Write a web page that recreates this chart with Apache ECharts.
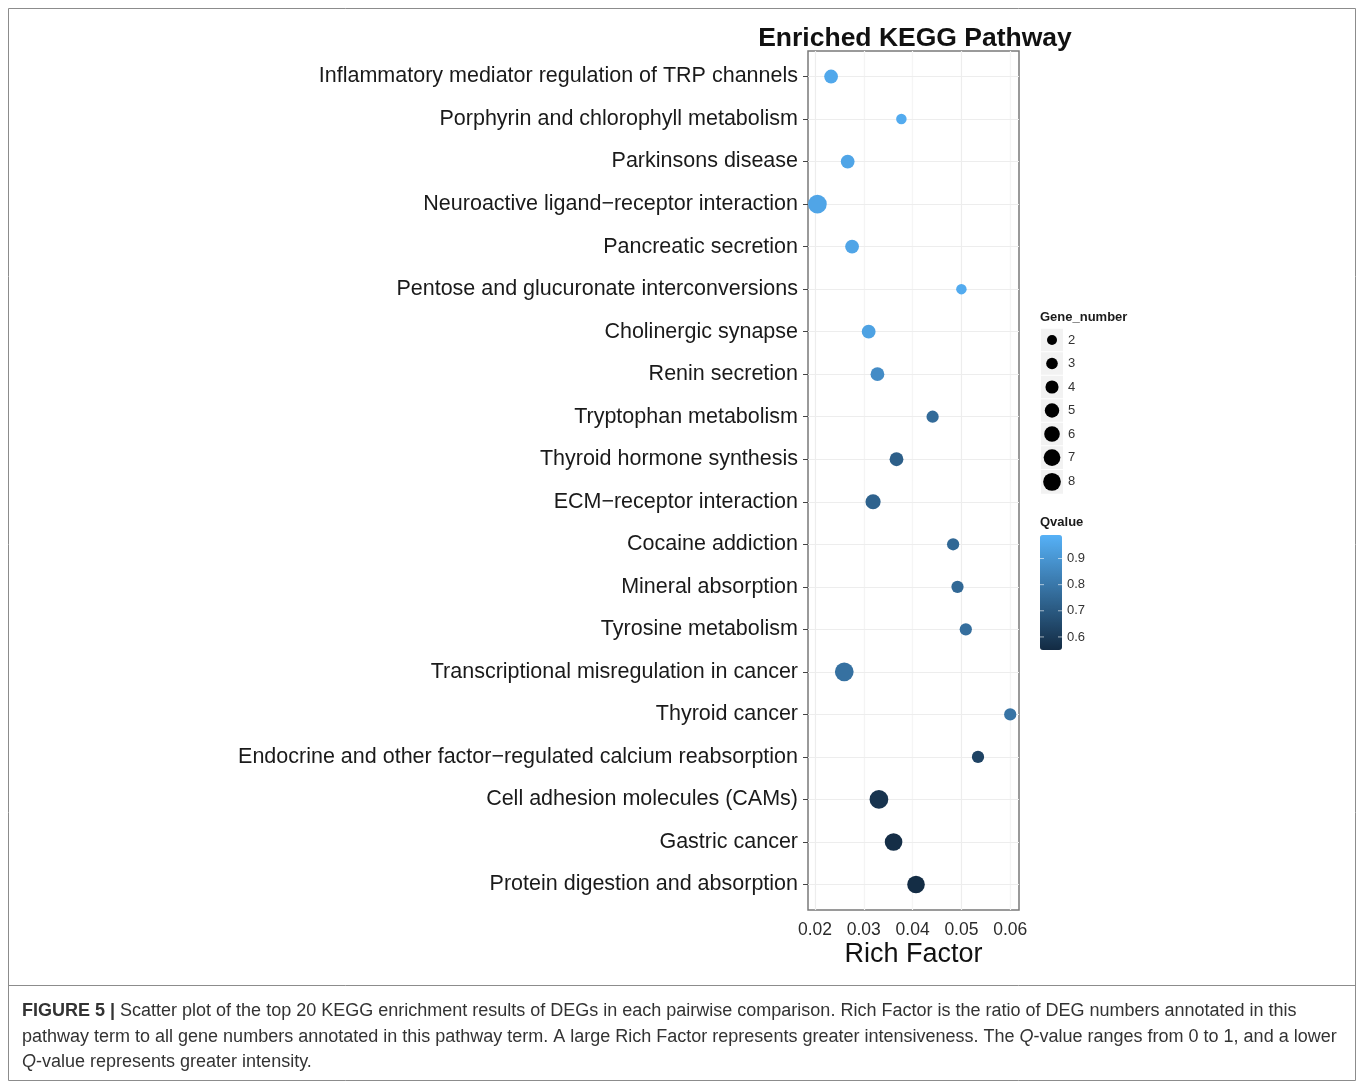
<!DOCTYPE html>
<html>
<head>
<meta charset="utf-8">
<title>Enriched KEGG Pathway</title>
<script src="https://cdn.jsdelivr.net/npm/echarts@6/dist/echarts.min.js"></script>
<style>
  html, body { margin: 0; padding: 0; background: #fff; }
  #main { width: 1360px; height: 1083px; }
</style>
</head>
<body>
<div id="main"></div>
<script>
// pathways, top to bottom
var categories = [
    'Inflammatory mediator regulation of TRP channels',
    'Porphyrin and chlorophyll metabolism',
    'Parkinsons disease',
    'Neuroactive ligand\u2212receptor interaction',
    'Pancreatic secretion',
    'Pentose and glucuronate interconversions',
    'Cholinergic synapse',
    'Renin secretion',
    'Tryptophan metabolism',
    'Thyroid hormone synthesis',
    'ECM\u2212receptor interaction',
    'Cocaine addiction',
    'Mineral absorption',
    'Tyrosine metabolism',
    'Transcriptional misregulation in cancer',
    'Thyroid cancer',
    'Endocrine and other factor\u2212regulated calcium reabsorption',
    'Cell adhesion molecules (CAMs)',
    'Gastric cancer',
    'Protein digestion and absorption'
];
var richFactor = [0.0233, 0.0377, 0.0267, 0.0205, 0.0276, 0.0500, 0.0310, 0.0328, 0.0441, 0.0367,
                  0.0319, 0.0483, 0.0492, 0.0509, 0.0260, 0.0600, 0.0534, 0.0331, 0.0361, 0.0407];
var geneNumber = [4, 2, 4, 8, 4, 2, 4, 4, 3, 4, 5, 3, 3, 3, 8, 3, 3, 8, 7, 7];
var qValue = [0.96, 0.97, 0.95, 0.95, 0.95, 0.97, 0.94, 0.87, 0.76, 0.72,
              0.73, 0.75, 0.75, 0.77, 0.78, 0.79, 0.63, 0.58, 0.56, 0.555];

var xTicks = [0.02, 0.03, 0.04, 0.05, 0.06];
var xMinor = [0.025, 0.035, 0.045, 0.055];
var sizeKeys = [2, 3, 4, 5, 6, 7, 8];
var qTicks = [0.6, 0.7, 0.8, 0.9];

var FONT = '"Liberation Sans", Arial, Helvetica, sans-serif';
var qMin = 0.55, qMax = 0.99;
var barLeft = 1040, barTop = 535, barW = 22, barH = 115;

// point diameter for a gene number (area grows linearly)
function geneSize(n) {
    return Math.sqrt(110 + 40 * (n - 2));
}

var points = [];
var rowIdx = [];
for (var i = 0; i < categories.length; i++) {
    points.push([richFactor[i], i, geneNumber[i], qValue[i]]);
    rowIdx.push(i);
}

var gridLines = [];
xTicks.forEach(function(v) {
    gridLines.push({ xAxis: v, lineStyle: { color: '#EDEDED', width: 1.2, type: 'solid' } });
});
xMinor.forEach(function(v) {
    gridLines.push({ xAxis: v, lineStyle: { color: '#F5F5F5', width: 0.8, type: 'solid' } });
});
rowIdx.forEach(function(v) {
    gridLines.push({ yAxis: v, lineStyle: { color: '#EDEDED', width: 1.2, type: 'solid' } });
});

// legend + caption + frame
var graphics = [];
graphics.push({
    type: 'rect', shape: { x: 8.5, y: 8.5, width: 1347, height: 1072 },
    style: { fill: 'none', stroke: '#8c8c8c', lineWidth: 1 }, silent: true
});
graphics.push({
    type: 'line', shape: { x1: 8.5, y1: 985.5, x2: 1355.5, y2: 985.5 },
    style: { stroke: '#8c8c8c', lineWidth: 1 }, silent: true
});

graphics.push({
    type: 'text', left: 1040, top: 311,
    style: { text: 'Gene_number', font: 'bold 13px ' + FONT, fill: '#1a1a1a' }
});
var keyY = 340;
sizeKeys.forEach(function(n, j) {
    var d = geneSize(n) * 0.95;
    var box = Math.max(23.5, d + 7);
    graphics.push({
        type: 'rect', shape: { x: 1041, y: keyY - box / 2 + 0.5, width: 22, height: box - 1 },
        style: { fill: '#F2F2F2' }, silent: true
    });
    graphics.push({
        type: 'circle', shape: { cx: 1052, cy: keyY, r: d / 2 },
        style: { fill: '#000' }, silent: true
    });
    graphics.push({
        type: 'text', x: 1068, y: keyY,
        style: { text: String(n), font: '13px ' + FONT, fill: '#333', textVerticalAlign: 'middle' }
    });
    if (j < sizeKeys.length - 1) {
        var nb = Math.max(23.5, geneSize(sizeKeys[j + 1]) * 0.95 + 7);
        keyY += box / 2 + nb / 2;
    }
});

graphics.push({
    type: 'text', left: 1040, top: 516,
    style: { text: 'Qvalue', font: 'bold 13px ' + FONT, fill: '#1a1a1a' }
});
qTicks.forEach(function(v) {
    var y = barTop + (qMax - v) / (qMax - qMin) * barH;
    graphics.push({
        type: 'line', shape: { x1: barLeft, y1: y, x2: barLeft + 4, y2: y },
        style: { stroke: 'rgba(255,255,255,0.6)', lineWidth: 1 }, silent: true, z: 100
    });
    graphics.push({
        type: 'line', shape: { x1: barLeft + barW - 4, y1: y, x2: barLeft + barW, y2: y },
        style: { stroke: 'rgba(255,255,255,0.6)', lineWidth: 1 }, silent: true, z: 100
    });
    graphics.push({
        type: 'text', x: 1067, y: y,
        style: { text: v.toFixed(1), font: '13px ' + FONT, fill: '#333', textVerticalAlign: 'middle' }
    });
});

var capStyle = {
    font: '18px ' + FONT, fill: '#333',
    rich: {
        b: { fontWeight: 'bold', fontSize: 18, fontFamily: FONT, fill: '#333' },
        i: { fontStyle: 'italic', fontSize: 18, fontFamily: FONT, fill: '#333' }
    }
};
var captionLines = [
    '{b|FIGURE 5 |} Scatter plot of the top 20 KEGG enrichment results of DEGs in each pairwise comparison. Rich Factor is the ratio of DEG numbers annotated in this',
    'pathway term to all gene numbers annotated in this pathway term. A large Rich Factor represents greater intensiveness. The {i|Q}-value ranges from 0 to 1, and a lower',
    '{i|Q}-value represents greater intensity.'
];
var capY = [1011, 1037, 1062];
captionLines.forEach(function(t, k) {
    graphics.push({
        type: 'text', x: 22, y: capY[k],
        style: Object.assign({ text: t, textVerticalAlign: 'middle' }, capStyle)
    });
});

var chart = echarts.init(document.getElementById('main'));
var option = {
    backgroundColor: '#fff',
    animation: false,
    title: {
        text: 'Enriched KEGG Pathway',
        left: 910,
        textAlign: 'center',
        top: 20,
        textStyle: { fontFamily: FONT, fontWeight: 'bold', fontSize: 26.5, color: '#111' }
    },
    grid: {
        left: 808, top: 51, width: 211, height: 859,
        show: true, borderColor: '#7a7a7a', borderWidth: 1.5, backgroundColor: '#fff'
    },
    xAxis: {
        type: 'value',
        min: 0.01857, max: 0.0618,
        name: 'Rich Factor',
        nameLocation: 'middle',
        nameGap: 31,
        nameMoveOverlap: false,
        nameTextStyle: { fontFamily: FONT, fontSize: 27, color: '#111', verticalAlign: 'top' },
        axisLine: { show: false },
        splitLine: { show: false },
        axisTick: { show: true, customValues: xTicks, length: 5, lineStyle: { color: '#444' } },
        axisLabel: {
            customValues: xTicks, margin: 11,
            formatter: function(v) { return v.toFixed(2); },
            fontFamily: FONT, fontSize: 17.5, color: '#2b2b2b'
        }
    },
    yAxis: {
        type: 'value',
        inverse: true,
        min: -0.6, max: 19.6,
        axisLine: { show: false },
        splitLine: { show: false },
        axisTick: { show: true, customValues: rowIdx, length: 5, lineStyle: { color: '#444' } },
        axisLabel: {
            customValues: rowIdx, margin: 10,
            formatter: function(v) { return categories[Math.round(v)]; },
            fontFamily: FONT, fontSize: 21.5, color: '#1a1a1a'
        }
    },
    visualMap: {
        type: 'continuous',
        min: qMin, max: qMax,
        dimension: 3,
        seriesIndex: 1,
        calculable: false,
        hoverLink: false,
        text: ['', ''],
        padding: 0,
        left: barLeft, top: barTop,
        itemWidth: barW, itemHeight: barH,
        inRange: { color: ['#132B43', '#56B1F7'] }
    },
    series: [{
        type: 'scatter',
        data: [],
        z: 1,
        silent: true,
        markLine: {
            silent: true,
            symbol: 'none',
            label: { show: false },
            animation: false,
            lineStyle: { type: 'solid' },
            data: gridLines
        }
    }, {
        type: 'scatter',
        z: 5,
        data: points,
        symbolSize: function(val) { return geneSize(val[2]); },
        itemStyle: { opacity: 1 }
    }],
    graphic: graphics
};
chart.setOption(option);
</script>
</body>
</html>
